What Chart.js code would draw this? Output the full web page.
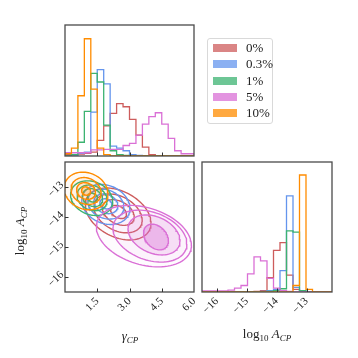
<!DOCTYPE html>
<html>
<head>
<meta charset="utf-8">
<script src="https://cdn.jsdelivr.net/npm/chart.js@4.4.0/dist/chart.umd.min.js"></script>
<style>
html, body { margin: 0; padding: 0; background: #fff; }
#fig { position: relative; width: 358px; height: 358px; overflow: hidden; }
#fig canvas { position: absolute; left: 0; top: 0; }
#legend { position: absolute; left: 207px; top: 38px; width: 64px; height: 84px; border: 1px solid #d9d9d9; border-radius: 3px; background: #fff;
  font-family: 'Liberation Serif', serif; font-size: 13px; color: #222; }
.row { position: absolute; left: 5px; height: 14px; line-height: 14px; white-space: nowrap; }
.sw { display: inline-block; width: 24px; height: 8px; vertical-align: middle; margin-right: 9px; margin-top: -2px; }
</style>
</head>
<body>
<div id="fig">
  <canvas id="topHist" width="358" height="358"></canvas>
  <canvas id="joint" width="358" height="358"></canvas>
  <canvas id="sideHist" width="358" height="358"></canvas>
  <div id="legend"></div>
</div>
<script>
'use strict';

// series (legend order)
const seriesNames = ['0%', '0.3%', '1%', '5%', '10%'];
const seriesColors = ['#cd5c5c', '#6495ed', '#3cb371', '#da70d6', '#ff8c00'];

// axes
const gammaRange = [0, 6];
const logARange = [-16.5, -12.15];
const gammaTicks = [1.5, 3.0, 4.5, 6.0];
const logATicks = [-16, -15, -14, -13];

// 1D histograms of gamma_CP, 20 bins over gammaRange (height as share of the panel)
const gammaHistRed     = [0.01, 0.01, 0.015, 0.02, 0.03, 0.12, 0.23, 0.326, 0.40, 0.376, 0.28, 0.16, 0.067, 0.01, 0, 0, 0, 0, 0, 0];
const gammaHistBlue    = [0, 0, 0.02, 0.03, 0.335, 0.66, 0.55, 0.075, 0.06, 0.04, 0.01, 0.005, 0, 0, 0, 0, 0, 0, 0, 0];
const gammaHistGreen   = [0, 0.01, 0.105, 0.34, 0.63, 0.565, 0.235, 0.04, 0.01, 0.005, 0, 0, 0, 0, 0, 0, 0, 0, 0, 0];
const gammaHistMagenta = [0.025, 0.025, 0.025, 0.025, 0.046, 0.046, 0.05, 0.05, 0.05, 0.08, 0.097, 0.16, 0.244, 0.30, 0.33, 0.244, 0.135, 0.04, 0.017, 0.017];
const gammaHistOrange  = [0.018, 0.06, 0.46, 0.895, 0.51, 0.06, 0.01, 0, 0, 0, 0, 0, 0, 0, 0, 0, 0, 0, 0, 0];

// 1D histograms of log10 A_CP, 20 bins over logARange
const logAHistRed     = [0, 0, 0, 0, 0, 0, 0, 0, 0.005, 0.01, 0.11, 0.32, 0.38, 0.13, 0.02, 0, 0, 0, 0, 0];
const logAHistBlue    = [0, 0, 0, 0, 0, 0, 0, 0, 0, 0.005, 0.01, 0.02, 0.164, 0.74, 0.036, 0.005, 0, 0, 0, 0];
const logAHistGreen   = [0, 0, 0, 0, 0, 0, 0, 0, 0, 0, 0.005, 0.01, 0.025, 0.47, 0.46, 0.01, 0, 0, 0, 0];
const logAHistMagenta = [0.008, 0.008, 0.008, 0.008, 0.015, 0.03, 0.05, 0.14, 0.27, 0.24, 0.105, 0.03, 0.01, 0.005, 0, 0, 0, 0, 0, 0];
const logAHistOrange  = [0, 0, 0, 0, 0, 0, 0, 0, 0, 0, 0, 0, 0, 0, 0.05, 0.9, 0.02, 0, 0, 0];

const gammaHists = [gammaHistRed, gammaHistBlue, gammaHistGreen, gammaHistMagenta, gammaHistOrange];
const logAHists = [logAHistRed, logAHistBlue, logAHistGreen, logAHistMagenta, logAHistOrange];

// 2D contours, inner -> outer level: centre and half extent along each axis
const contourGammaMid = [
  [2.49, 2.48, 2.47, 2.47],
  [1.90, 1.90, 1.90, 1.90],
  [1.28, 1.28, 1.26, 1.24],
  [4.23, 4.14, 3.95, 3.67],
  [0.98, 0.98, 0.98, 0.98]
];
const contourLogAMid = [
  [-13.82, -13.84, -13.87, -13.89],
  [-13.55, -13.55, -13.56, -13.57],
  [-13.34, -13.34, -13.35, -13.36],
  [-14.66, -14.59, -14.63, -14.63],
  [-13.12, -13.12, -13.12, -13.12]
];
const contourGammaHalf = [
  [0.37, 0.74, 1.12, 1.53],
  [0.28, 0.56, 0.84, 1.12],
  [0.23, 0.47, 0.70, 0.98],
  [0.58, 1.21, 1.72, 2.21],
  [0.21, 0.44, 0.70, 1.02]
];
const contourLogAHalf = [
  [0.22, 0.43, 0.65, 0.87],
  [0.17, 0.33, 0.50, 0.67],
  [0.15, 0.30, 0.43, 0.58],
  [0.43, 0.67, 0.87, 1.03],
  [0.14, 0.28, 0.45, 0.63]
];
const contourTilt = [-0.35, -0.2, -0.2, -0.3, -0.15];
// fill opacity of each level (inner -> outer)
const contourShade = [
  [0, 0, 0, 0],
  [0, 0, 0, 0],
  [0, 0, 0, 0],
  [0.35, 0.16, 0.06, 0.03],
  [0.2, 0.1, 0.06, 0.04]
];

const SERIF = "'Liberation Serif', 'DejaVu Serif', serif";

function rgba(hex, a) {
  const n = parseInt(hex.slice(1), 16);
  return `rgba(${n >> 16},${(n >> 8) & 255},${n & 255},${a})`;
}

function fmtTick(v, digits) {
  const s = Math.abs(v).toFixed(digits);
  return v < 0 ? '\u2212' + s : s;
}

// outline of a step histogram
function stepPoints(counts, range) {
  const w = (range[1] - range[0]) / counts.length;
  const pts = [{ x: range[0], y: 0 }];
  counts.forEach((c, i) => pts.push({ x: range[0] + i * w, y: c }));
  pts.push({ x: range[1], y: counts[counts.length - 1] });
  pts.push({ x: range[1], y: 0 });
  return pts;
}

function ellipsePoints(cx, cy, hx, hy, rho) {
  const pts = [];
  const s = Math.sqrt(1 - rho * rho);
  for (let i = 0; i <= 90; i++) {
    const t = i / 90 * 2 * Math.PI;
    pts.push({ x: cx + hx * Math.cos(t), y: cy + hy * (rho * Math.cos(t) + s * Math.sin(t)) });
  }
  return pts;
}

// text with subscripts: parts = [text, italic, size, drop]
function drawRich(ctx, parts, x, y, rot) {
  ctx.save();
  ctx.translate(x, y);
  if (rot) ctx.rotate(rot);
  ctx.fillStyle = '#222';
  ctx.textBaseline = 'alphabetic';
  const fonts = parts.map(p => `${p[1] ? 'italic ' : ''}${p[2]}px ${SERIF}`);
  let total = 0;
  parts.forEach((p, i) => { ctx.font = fonts[i]; total += ctx.measureText(p[0]).width; });
  let cx = -total / 2;
  parts.forEach((p, i) => {
    ctx.font = fonts[i];
    ctx.fillText(p[0], cx, p[3]);
    cx += ctx.measureText(p[0]).width;
  });
  ctx.restore();
}

const gammaTitle = [['\u03B3', true, 13, 0], ['CP', true, 9, 3]];
const logATitle = [['log', false, 13, 0], ['10', false, 9, 3], [' A', true, 13, 0], ['CP', true, 9, 3]];

// frame, inward tick marks and axis titles
const panelFrame = {
  id: 'panelFrame',
  afterDraw(chart, args, opts) {
    const { ctx, chartArea: a, scales } = chart;
    ctx.save();
    ctx.strokeStyle = '#4a4a4a';
    ctx.lineWidth = 1.3;
    ctx.strokeRect(a.left, a.top, a.right - a.left, a.bottom - a.top);
    ctx.lineWidth = 1;
    ctx.strokeStyle = '#333';
    ctx.beginPath();
    (opts.xTicks || []).forEach(v => {
      const px = Math.round(scales.x.getPixelForValue(v)) + 0.5;
      ctx.moveTo(px, a.bottom); ctx.lineTo(px, a.bottom - 3.5);
    });
    (opts.yTicks || []).forEach(v => {
      const py = Math.round(scales.y.getPixelForValue(v)) + 0.5;
      ctx.moveTo(a.left, py); ctx.lineTo(a.left + 3.5, py);
    });
    ctx.stroke();
    ctx.restore();
    (opts.titles || []).forEach(t => drawRich(ctx, t.parts, t.x, t.y, t.rot));
  }
};

function histDatasets(hists, range) {
  return hists.map((h, s) => ({
    label: seriesNames[s],
    data: stepPoints(h, range),
    showLine: true,
    stepped: true,
    pointRadius: 0,
    borderColor: seriesColors[s],
    borderWidth: 1.3,
    fill: false,
    order: -s
  }));
}

const hiddenAxis = (range) => ({ type: 'linear', display: false, min: range[0], max: range[1] });

function tickAxis(range, ticks, digits, size, shift) {
  return {
    type: 'linear', min: range[0], max: range[1],
    afterBuildTicks: s => { s.ticks = ticks.map(v => ({ value: v })); },
    afterFit: s => { if (s.isHorizontal()) s.height = size; else s.width = size; },
    grid: { display: false, drawTicks: false },
    border: { display: false },
    ticks: {
      autoSkip: false, minRotation: 45, maxRotation: 45, padding: 3, labelOffset: shift || 0,
      color: '#222', font: { family: SERIF, size: 11 },
      callback: v => fmtTick(v, digits)
    }
  };
}

const common = {
  responsive: false,
  devicePixelRatio: 1,
  animation: false,
  events: [],
  plugins: { legend: { display: false }, tooltip: { enabled: false } }
};

// top: gamma_CP marginal
new Chart(document.getElementById('topHist'), {
  type: 'scatter',
  data: { datasets: histDatasets(gammaHists, gammaRange) },
  options: {
    ...common,
    layout: { autoPadding: false, padding: { left: 65, top: 25, right: 164, bottom: 202 } },
    scales: { x: hiddenAxis(gammaRange), y: hiddenAxis([0, 1]) },
    plugins: { ...common.plugins, panelFrame: { xTicks: [1.5, 3.0, 4.5] } }
  },
  plugins: [panelFrame]
});

// joint contours
const contourSets = [];
seriesNames.forEach((name, s) => {
  contourGammaMid[s].forEach((g, k) => {
    const shade = contourShade[s][k];
    contourSets.push({
      label: name,
      data: ellipsePoints(g, contourLogAMid[s][k], contourGammaHalf[s][k], contourLogAHalf[s][k], contourTilt[s]),
      showLine: true,
      pointRadius: 0,
      borderColor: seriesColors[s],
      borderWidth: 1.4,
      fill: shade > 0 ? 'shape' : false,
      backgroundColor: rgba(seriesColors[s], shade),
      order: -s
    });
  });
});

new Chart(document.getElementById('joint'), {
  type: 'scatter',
  data: { datasets: contourSets },
  options: {
    ...common,
    layout: { autoPadding: false, padding: { left: 15, top: 162, right: 164, bottom: 16 } },
    scales: {
      x: tickAxis(gammaRange, gammaTicks, 1, 50),
      y: tickAxis(logARange, logATicks, 0, 50, -4)
    },
    plugins: {
      ...common.plugins,
      panelFrame: {
        xTicks: [1.5, 3.0, 4.5], yTicks: logATicks,
        titles: [
          { parts: gammaTitle, x: 130, y: 340 },
          { parts: logATitle, x: 24, y: 231, rot: -Math.PI / 2 }
        ]
      }
    }
  },
  plugins: [panelFrame]
});

// right: log10 A_CP marginal
new Chart(document.getElementById('sideHist'), {
  type: 'scatter',
  data: { datasets: histDatasets(logAHists, logARange) },
  options: {
    ...common,
    layout: { autoPadding: false, padding: { left: 202, top: 162, right: 26, bottom: 16 } },
    scales: { x: tickAxis(logARange, logATicks, 0, 50), y: hiddenAxis([0, 1]) },
    plugins: {
      ...common.plugins,
      panelFrame: { xTicks: logATicks, titles: [{ parts: logATitle, x: 267, y: 338 }] }
    }
  },
  plugins: [panelFrame]
});

// legend
const legendBox = document.getElementById('legend');
seriesNames.forEach((name, s) => {
  const row = document.createElement('div');
  row.className = 'row';
  row.style.top = (2 + s * 16.3) + 'px';
  row.innerHTML = `<span class="sw" style="background:${rgba(seriesColors[s], 0.75)}"></span>${name}`;
  legendBox.appendChild(row);
});
</script>
</body>
</html>
